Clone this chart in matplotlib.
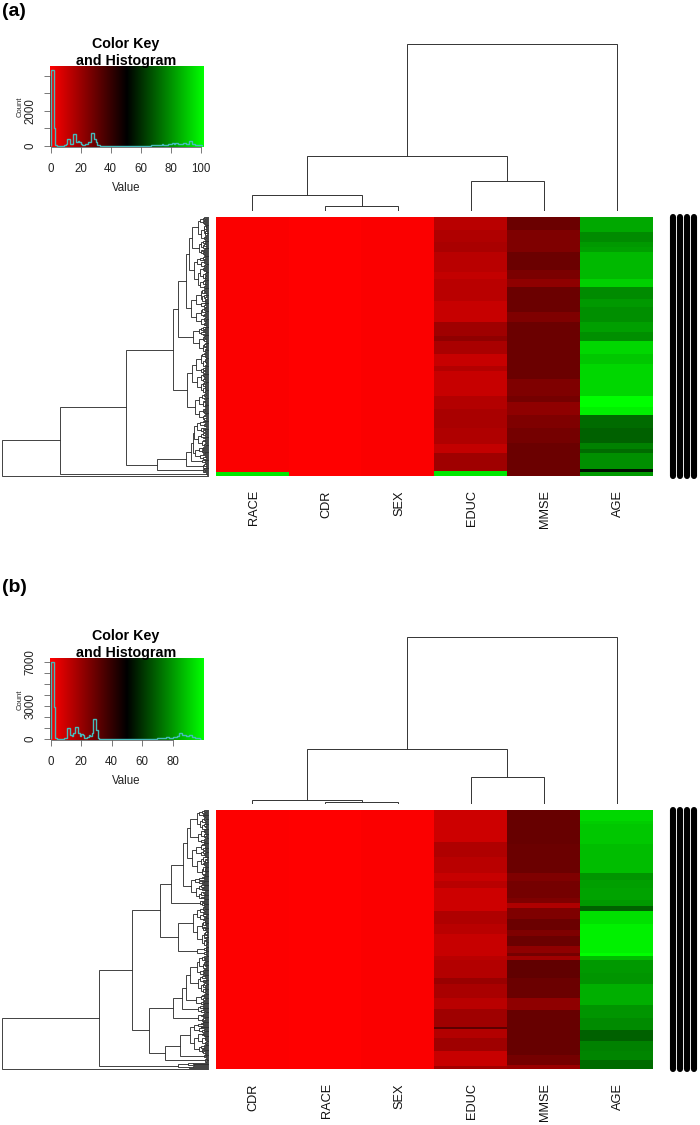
import numpy as np
import matplotlib
matplotlib.use("Agg")
import matplotlib.pyplot as plt
from matplotlib import colors

plt.rcParams['font.family'] = ['Liberation Sans', 'DejaVu Sans']

W, H = 700, 1125
LINE = '#333333'

# heatmap bands, edges in 1/3 pixel rows, values 0-100
a_labels = ['RACE', 'CDR', 'SEX', 'EDUC', 'MMSE', 'AGE']
a_age_edges = [0, 45, 75, 90, 105, 185, 208, 245, 270, 315, 345, 370, 410, 440, 535, 570, 592, 630, 675, 695, 705, 755, 762, 775]
a_age_vals = [83, 77, 80, 81, 86, 91, 77, 80, 78, 81, 78, 92, 89, 92, 100, 97, 71, 69, 75, 71, 78, 53, 80]
a_educ_edges = [0, 40, 75, 105, 165, 185, 250, 315, 355, 370, 410, 445, 460, 535, 575, 630, 680, 705, 760, 775]
a_educ_vals = [14, 16, 17, 14, 12, 14, 11, 19, 22, 17, 11, 15, 11, 15, 17, 16, 12, 19, 95]
a_mmse_edges = [0, 40, 105, 160, 185, 208, 285, 315, 485, 535, 555, 592, 630, 675, 775]
a_mmse_vals = [29, 25, 29, 26, 22, 29, 25, 29, 25, 27, 22, 25, 27, 29]
a_race_edges = [0, 763, 775]
a_race_vals = [1, 95]

b_labels = ['CDR', 'RACE', 'SEX', 'EDUC', 'MMSE', 'AGE']
b_age_edges = [0, 32, 42, 102, 190, 210, 234, 270, 288, 302, 342, 427, 437, 450, 487, 522, 584, 622, 657, 692, 722, 747, 775]
b_age_vals = [92, 90, 89, 87, 79, 81, 82, 80, 69, 94, 97, 100, 87, 80, 79, 84, 79, 77, 69, 75, 76, 71]
b_educ_edges = [0, 97, 142, 190, 212, 234, 302, 342, 372, 437, 450, 502, 522, 562, 594, 650, 656, 682, 722, 767, 775]
b_educ_vals = [10, 16, 14, 11, 14, 10, 16, 14, 11, 14, 15, 20, 17, 14, 19, 32, 15, 19, 11, 18]
b_mmse_edges = [0, 102, 190, 212, 262, 277, 294, 327, 360, 377, 407, 427, 437, 450, 502, 562, 597, 732, 762, 775]
b_mmse_vals = [30, 29, 25, 27, 25, 16, 25, 29, 25, 29, 22, 27, 19, 31, 29, 22, 30, 27, 20]
b_race_edges = [0, 775]
b_race_vals = [0.5]

# histogram counts, one per unit bin
a_hist = [4300, 4300, 1000, 30, 15, 10, 10, 15, 20, 30, 100, 400, 380, 120, 100, 650, 650, 250, 300, 200, 100, 30, 50, 80, 120, 200, 250, 750, 750, 400, 250, 50, 30,
          20, 15, 15, 10, 10, 10, 10, 10, 10, 10, 10, 10, 10, 10, 10, 10, 10, 10, 10, 10, 10, 10, 10, 10, 10, 10, 10, 10, 15, 15, 15, 20, 20, 20, 25, 25, 30,
          30, 40, 50, 60, 80, 70, 60, 70, 90, 110, 130, 150, 130, 180, 180, 120, 130, 130, 170, 150, 100, 120, 280, 280, 120, 100, 70, 60, 50, 40, 30]
b_hist = [7000, 7000, 2900, 40, 20, 10, 10, 20, 30, 60, 100, 1000, 1000, 400, 300, 500, 1100, 1100, 500, 300, 450, 400, 100, 100, 200, 350, 300, 500, 1800, 1800, 800, 50, 30,
          20, 15, 15, 10, 10, 10, 10, 10, 10, 10, 10, 10, 10, 10, 10, 10, 10, 10, 10, 10, 10, 10, 10, 10, 10, 10, 10, 10, 15, 15, 15, 20, 20, 20, 25, 25, 30,
          40, 50, 60, 70, 80, 100, 150, 150, 100, 120, 130, 200, 200, 300, 500, 500, 350, 350, 400, 300, 300, 350, 350, 200, 150, 100, 100, 50, 20]

# column trees: [height, left, right], ints are column numbers
a_col_tree = [100, [32.7, [9.5, 0, [3, 1, 2]], [18, 3, 4]], 5]
b_col_tree = [100, [33, [2.1, 0, [1, 1, 2]], [16, 3, 4]], 5]

# row trees: [height, upper, lower], (leaves, height) is a small cluster
a_row_tree = [205.7,
              [148,
               [82,
                [35.3,
                 [30, [22, [19, (44, 16), (37, 14)], (42, 17)], (30, 15)],
                 [21, (46, 16), (30, 13)]],
                [51, [22, [17, [15, (30, 14), (14, 13)], (5, 6)], (5, 5)], (5, 5)]],
               (3, 2)],
              (1, 0)]
b_row_tree = [205.7,
              [108.7,
               [75.7,
                [48,
                 [37, [25, [21, (40, 18), (40, 16)], (29, 17)], (8, 8)],
                 [30, (48, 15), [11, (6, 4), (6, 4)]]],
                [59,
                 [35, [26, [22, (46, 18), (14, 12)], (10, 10)], (10, 10)],
                 [43, [28, (38, 18), (5, 4)], (6, 3)]]],
               (7, 30)],
              (1, 0)]

# how small clusters divide
split_fracs = [0.45, 0.6, 0.35, 0.5, 0.7, 0.4, 0.55]
height_fracs = [0.72, 0.6, 0.8, 0.66, 0.75]

redgreen = colors.LinearSegmentedColormap.from_list('redgreen', ['#ff0000', '#000000', '#00ff00'], N=256)


def px_axes(fig, x0, y0, x1, y1):
    return fig.add_axes([x0 / W, 1 - y1 / H, (x1 - x0) / W, (y1 - y0) / H])


def bands(edges, vals):
    return np.repeat(vals, np.diff(edges))


class RowDrawer:
    def __init__(self, ax):
        self.ax = ax
        self.row = 0
        self.step = 0

    def link(self, h, p1, p2):
        self.ax.plot([p1[0], h, h, p2[0]], [p1[1], p1[1], p2[1], p2[1]], color=LINE, lw=0.65,
                     solid_joinstyle='miter', clip_on=False)
        return (h, (p1[1] + p2[1]) / 2)

    def cluster(self, n, h):
        if n == 1:
            self.row += 1
            return (0, self.row - 0.5)
        self.step += 1
        k = max(1, min(n - 1, round(n * split_fracs[self.step % len(split_fracs)])))
        f = height_fracs[self.step % len(height_fracs)]
        return self.link(h, self.cluster(k, h * f), self.cluster(n - k, h * f * 0.95))

    def node(self, t):
        if isinstance(t, tuple):
            return self.cluster(t[0], t[1])
        return self.link(t[0], self.node(t[1]), self.node(t[2]))


def count_leaves(t):
    if isinstance(t, tuple):
        return t[0]
    return count_leaves(t[1]) + count_leaves(t[2])


def col_node(ax, t):
    if isinstance(t, int):
        return (t + 0.5, 0)
    p1 = col_node(ax, t[1])
    p2 = col_node(ax, t[2])
    ax.plot([p1[0], p1[0], p2[0], p2[0]], [p1[1], t[0], t[0], p2[1]], color=LINE, lw=0.7, solid_joinstyle='miter')
    return ((p1[0] + p2[0]) / 2, t[0])


def panel(fig, tag, tag_y, top, col_labels, col_tree, row_tree, race, educ, mmse, age, hist, key, ymax, yticks, ylabels, xticks, xmax):
    fig.text(2 / W, 1 - tag_y / H, tag, fontsize=14, fontweight='bold', va='center', ha='left')

    # heatmap
    ax = px_axes(fig, 216, top, 653, top + 259)
    n = len(race)
    red0 = np.zeros(n)
    mat = np.column_stack([race, red0, red0 + 1, educ, mmse, age])
    ax.imshow(mat, cmap=redgreen, vmin=0, vmax=100, aspect='auto', interpolation='nearest')
    ax.set_xticks([])
    ax.set_yticks([])
    for s in ax.spines.values():
        s.set_visible(False)
    for i, lab in enumerate(col_labels):
        ax.text(i + 0.02, n + 42, lab, rotation=90, ha='center', va='top', fontsize=9.2, color='#111111')

    # column dendrogram
    ax = px_axes(fig, 216, top - 173, 653, top - 6)
    ax.axis('off')
    ax.set_xlim(0, 6)
    ax.set_ylim(0, 100)
    col_node(ax, col_tree)

    # row dendrogram
    ax = px_axes(fig, 2, top, 208, top + 259)
    ax.axis('off')
    ax.set_xlim(206, 0)
    ax.set_ylim(count_leaves(row_tree), 0)
    RowDrawer(ax).node(row_tree)

    # row label smear on the right
    ax = px_axes(fig, 669, top, 697, top + 259)
    ax.axis('off')
    ax.set_xlim(0, 4)
    ax.set_ylim(1, 0)
    for i in range(4):
        ax.plot([i + 0.5, i + 0.5], [0, 1], color='black', lw=4.4, solid_capstyle='round', clip_on=False)

    # color key
    x0, y0, x1, y1 = key
    ax = px_axes(fig, x0, y0, x1, y1)
    ax.imshow(np.linspace(0, 100, 256).reshape(1, -1), cmap=redgreen, vmin=0, vmax=100, aspect='auto',
              extent=[-0.4, xmax, -ymax * 0.01, ymax], interpolation='bilinear')
    ax.stairs(hist, np.arange(len(hist) + 1), color='#45bcbc', lw=1.0)
    ax.set_xlim(-0.4, xmax)
    ax.set_ylim(-ymax * 0.01, ymax)
    for s in ['top', 'right']:
        ax.spines[s].set_visible(False)
    ax.spines['left'].set_bounds(0, yticks[-1])
    ax.spines['bottom'].set_bounds(0, xticks[-1])
    for s in ['left', 'bottom']:
        ax.spines[s].set_linewidth(0.5)
        ax.spines[s].set_color('#444444')
    ax.set_xticks(xticks)
    ax.set_yticks(yticks)
    ax.set_yticklabels(ylabels, rotation=90, va='center')
    ax.tick_params(axis='x', length=4.3, width=0.5, color='#444444', labelsize=8.3, pad=7.5, labelcolor='#222222')
    ax.tick_params(axis='y', length=4.3, width=0.5, color='#444444', labelsize=8.3, pad=5.5, labelcolor='#222222')
    ax.set_xlabel('Value', fontsize=8.3, labelpad=5, color='#222222')
    fig.text((x0 - 30) / W, 1 - (y0 + 41) / H, 'Count', fontsize=5.5, rotation=90, va='center', ha='center', color='#222222')
    fig.text(126 / W, 1 - (y0 - 22) / H, 'Color Key', fontsize=10.3, fontweight='bold', ha='center', va='center')
    fig.text(126 / W, 1 - (y0 - 5) / H, 'and Histogram', fontsize=10.3, fontweight='bold', ha='center', va='center')


fig = plt.figure(figsize=(7, 11.25), dpi=100)

panel(fig, '(a)', 12, 217, a_labels, a_col_tree, a_row_tree,
      bands(a_race_edges, a_race_vals), bands(a_educ_edges, a_educ_vals),
      bands(a_mmse_edges, a_mmse_vals), bands(a_age_edges, a_age_vals),
      a_hist, (50, 66, 203, 146.7), 4550, [0, 1000, 2000, 3000, 4000], ['0', '', '2000', '', ''],
      [0, 20, 40, 60, 80, 100], 101.5)

panel(fig, '(b)', 587, 810, b_labels, b_col_tree, b_row_tree,
      bands(b_race_edges, b_race_vals), bands(b_educ_edges, b_educ_vals),
      bands(b_mmse_edges, b_mmse_vals), bands(b_age_edges, b_age_vals),
      b_hist, (50, 658.3, 203, 739.7), 7350, [0, 1000, 2000, 3000, 4000, 5000, 6000, 7000],
      ['0', '', '', '3000', '', '', '', '7000'], [0, 20, 40, 60, 80], 100)

fig.savefig('out.png', dpi=100)
